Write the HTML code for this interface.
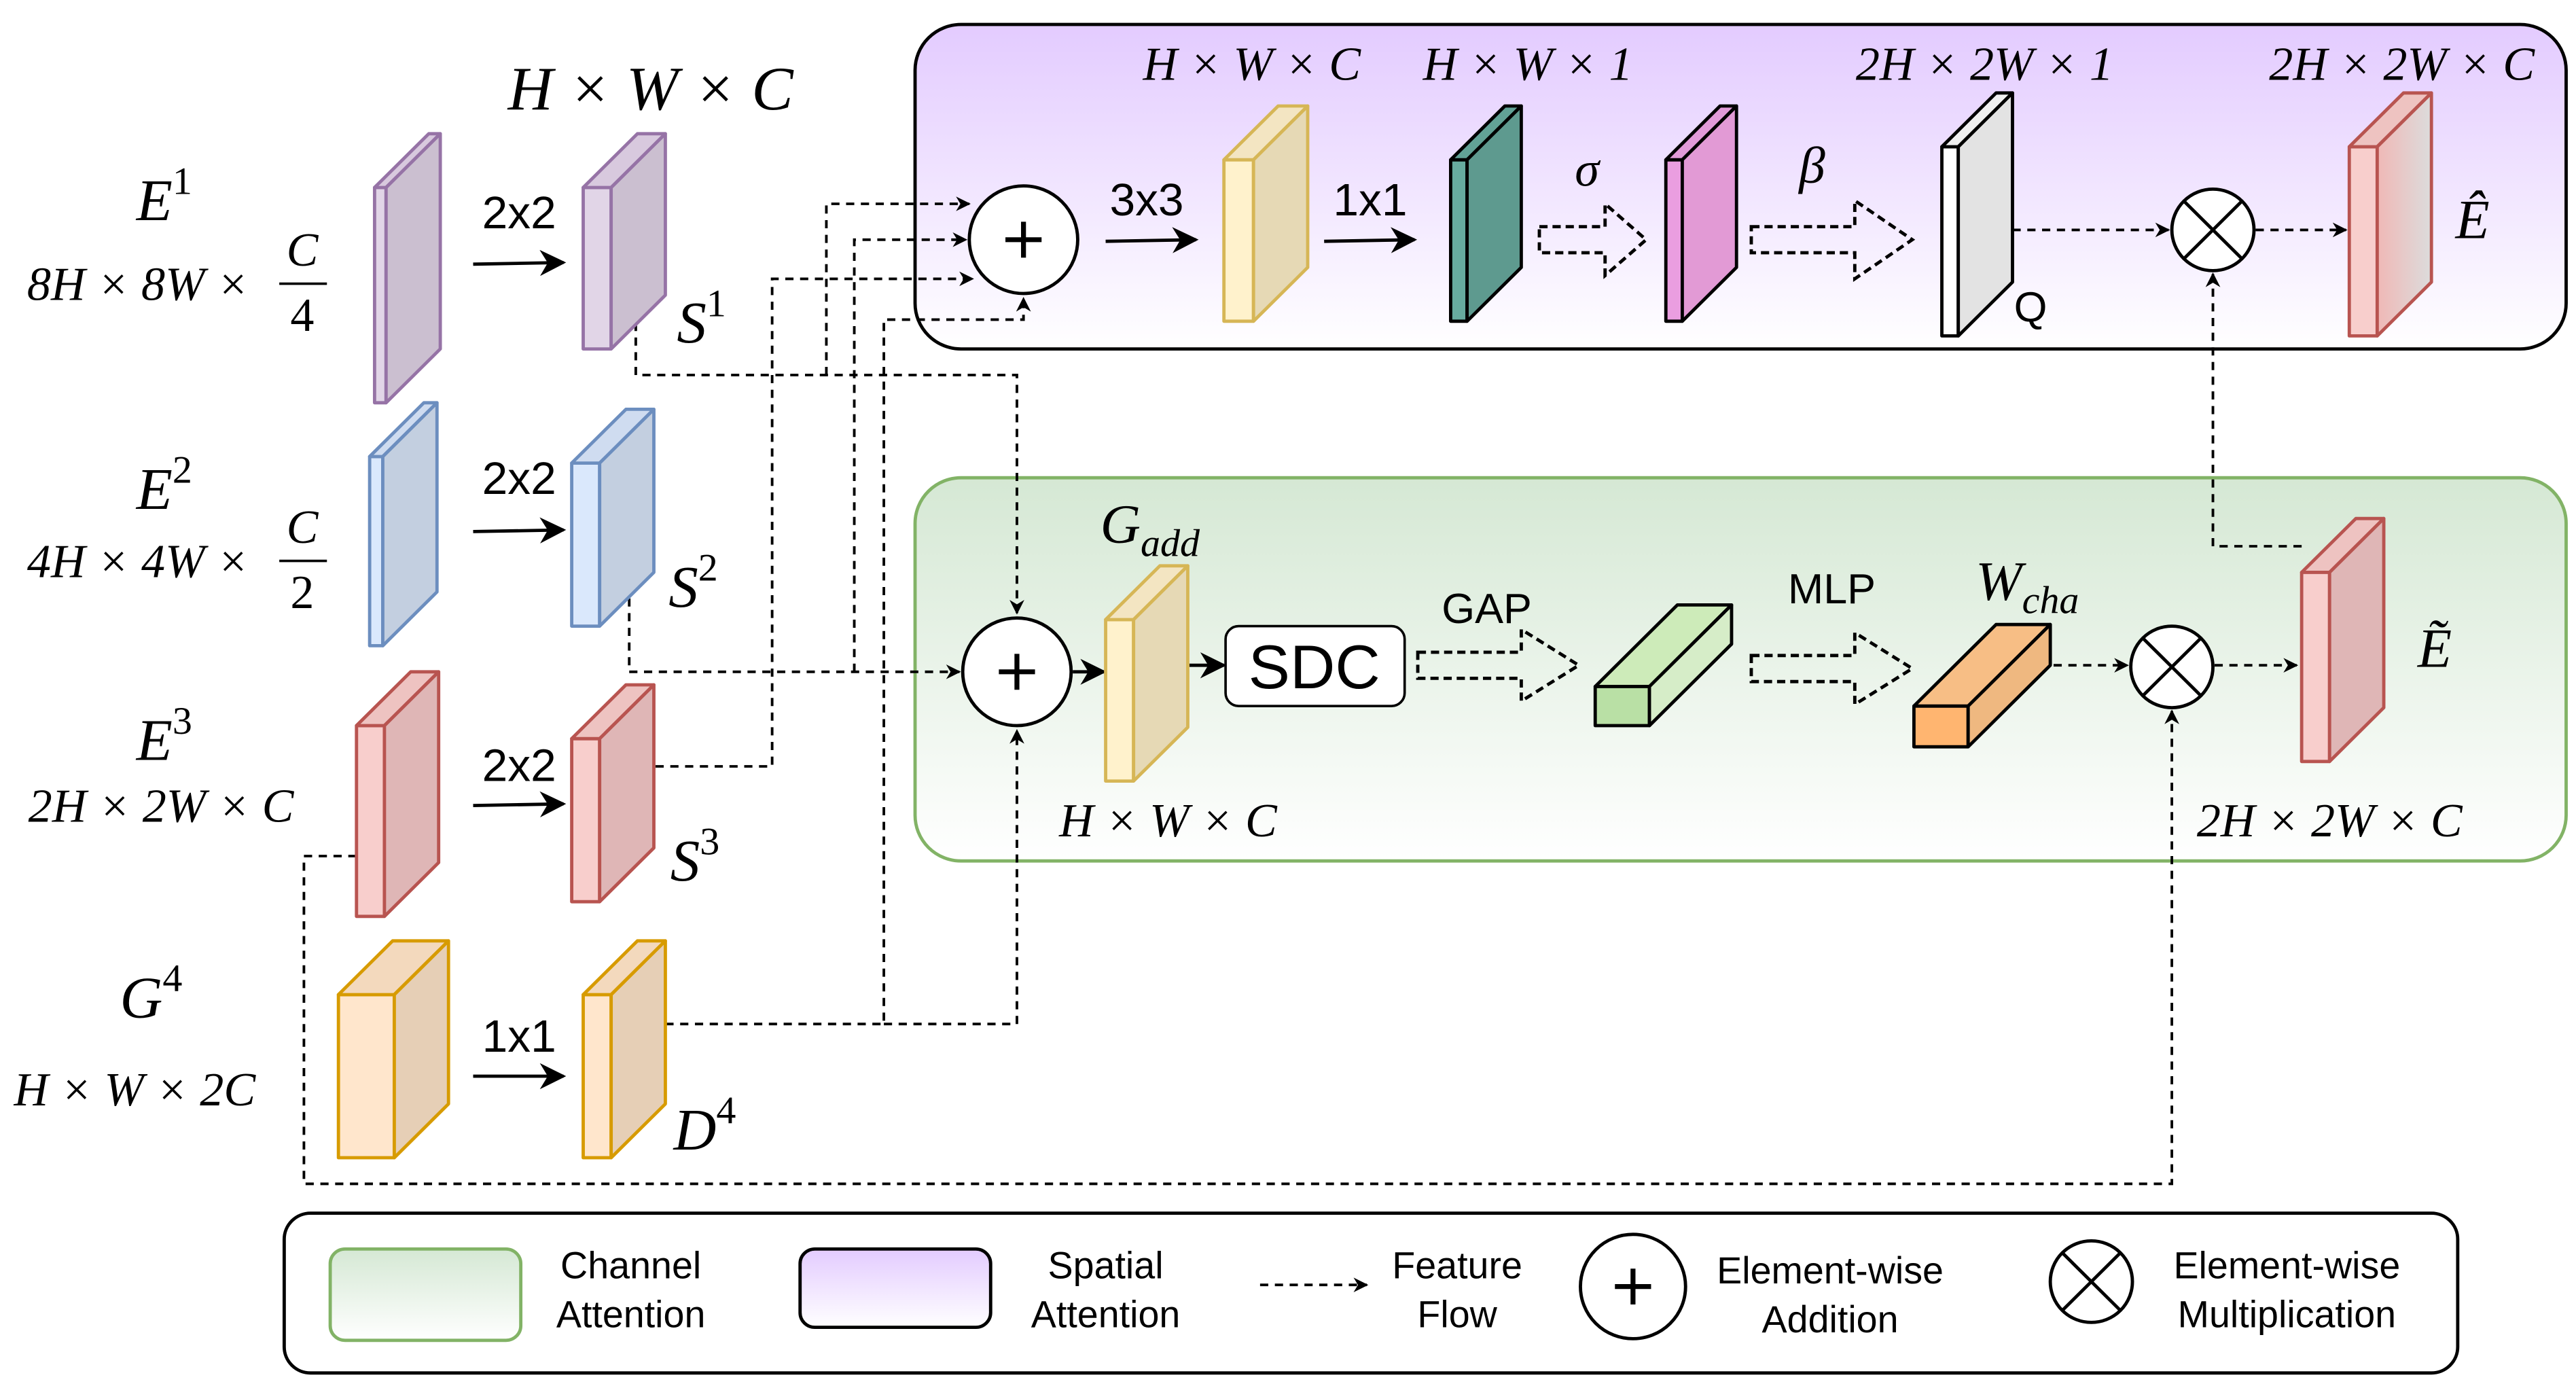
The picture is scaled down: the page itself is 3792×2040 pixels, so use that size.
<!DOCTYPE html>
<html><head><meta charset="utf-8"><style>
html,body{margin:0;padding:0;background:#fff;}
svg{display:block;}
.m{font-family:"Liberation Serif",serif;font-style:italic;}
.r{font-family:"Liberation Serif",serif;font-style:normal;}
.s{font-family:"Liberation Sans",sans-serif;}
</style></head><body>
<svg width="3792" height="2040" viewBox="0 0 1568 850" preserveAspectRatio="none" xmlns="http://www.w3.org/2000/svg">
<defs>
<linearGradient id="gp" x1="0" y1="0" x2="0" y2="1"><stop offset="0" stop-color="#e3cbff"/><stop offset="1" stop-color="#ffffff"/></linearGradient>
<linearGradient id="gg" x1="0" y1="0" x2="0" y2="1"><stop offset="0" stop-color="#d5e8d4"/><stop offset="1" stop-color="#ffffff"/></linearGradient>
<linearGradient id="gr" x1="0" y1="0" x2="1" y2="0"><stop offset="0" stop-color="#f0b8b6"/><stop offset="1" stop-color="#dcdcdc"/></linearGradient>
<marker id="a" viewBox="0 0 10 10" refX="9" refY="5" markerWidth="9" markerHeight="9" markerUnits="userSpaceOnUse" orient="auto"><path d="M0,0 L10,5 L0,10 L3,5 z" fill="#000"/></marker>
<marker id="b" viewBox="0 0 10 10" refX="9" refY="5" markerWidth="16" markerHeight="16" markerUnits="userSpaceOnUse" orient="auto"><path d="M0,0 L10,5 L0,10 L3,5 z" fill="#000"/></marker>
</defs>

<rect x="557" y="15" width="1005" height="199" rx="28" fill="url(#gp)" stroke="#000" stroke-width="2"/>
<rect x="557" y="293" width="1005" height="235" rx="28" fill="url(#gg)" stroke="#82b366" stroke-width="2"/>
<rect x="173" y="744" width="1323" height="98" rx="16" fill="#fff" stroke="#000" stroke-width="2"/>

<g fill="none" stroke="#000" stroke-width="1.6" stroke-dasharray="5,4">
<path d="M387,198 V230 H619 V376" marker-end="url(#a)"/>
<path d="M383,367 V412 H584" marker-end="url(#a)"/>
<path d="M520,412 V147 H588" marker-end="url(#a)"/>
<path d="M503,230 V125 H590" marker-end="url(#a)"/>
<path d="M399,470 H470 V171 H592" marker-end="url(#a)"/>
<path d="M405,628 H538 V196 H623 V183" marker-end="url(#a)"/>
<path d="M538,628 H619 V448" marker-end="url(#a)"/>
<path d="M217,525 H185 V726 H1322 V436" marker-end="url(#a)"/>
<path d="M1225,141 H1320" marker-end="url(#a)"/>
<path d="M1373,141 H1428" marker-end="url(#a)"/>
<path d="M1401,335 H1347 V168" marker-end="url(#a)"/>
<path d="M1250,408 H1295" marker-end="url(#a)"/>
<path d="M1348,408 H1398" marker-end="url(#a)"/>
<path d="M767,788 H832" marker-end="url(#a)"/>
</g>

<g stroke="#000" stroke-width="2" fill="none">
<path d="M288,162 L343,161" marker-end="url(#b)"/>
<path d="M288,326 L343,325" marker-end="url(#b)"/>
<path d="M288,494 L343,493" marker-end="url(#b)"/>
<path d="M288,660 L343,660" marker-end="url(#b)"/>
<path d="M673,148 L728,147" marker-end="url(#b)"/>
<path d="M806,148 L861,147" marker-end="url(#b)"/>
<path d="M653,412 L672,412" marker-end="url(#b)"/>
<path d="M724,408 L745,408" marker-end="url(#b)"/>
</g>

<g fill="none" stroke="#000" stroke-width="2" stroke-dasharray="5,3">
<polygon points="937,139 977,139 977,125 1002,147 977,169 977,155 937,155"/>
<polygon points="1066,139 1129,139 1129,123 1164,147 1129,171 1129,155 1066,155"/>
<polygon points="863,400 926,400 926,386 961,408 926,430 926,416 863,416"/>
<polygon points="1066,402 1129,402 1129,388 1164,410 1129,432 1129,418 1066,418"/>
</g>

<g stroke-width="2" stroke-linejoin="round">
<g stroke="#9673a6"><rect x="228" y="115" width="7" height="132" fill="#e1d5e7"/><polygon points="228,115 261,82 268,82 235,115" fill="#d8c9de"/><polygon points="235,115 268,82 268,214 235,247" fill="#cbbfd0"/></g>
<g stroke="#9673a6"><rect x="355" y="115" width="17" height="99" fill="#e1d5e7"/><polygon points="355,115 388,82 405,82 372,115" fill="#d8c9de"/><polygon points="372,115 405,82 405,181 372,214" fill="#cbbfd0"/></g>
<g stroke="#6c8ebf"><rect x="225" y="280" width="8" height="116" fill="#dae8fc"/><polygon points="225,280 258,247 266,247 233,280" fill="#cfdcf0"/><polygon points="233,280 266,247 266,363 233,396" fill="#c3cfe0"/></g>
<g stroke="#6c8ebf"><rect x="348" y="284" width="17" height="100" fill="#dae8fc"/><polygon points="348,284 381,251 398,251 365,284" fill="#cfdcf0"/><polygon points="365,284 398,251 398,351 365,384" fill="#c3cfe0"/></g>
<g stroke="#b85450"><rect x="217" y="445" width="17" height="117" fill="#f8cecc"/><polygon points="217,445 250,412 267,412 234,445" fill="#eec3c1"/><polygon points="234,445 267,412 267,529 234,562" fill="#dfb6b6"/></g>
<g stroke="#b85450"><rect x="348" y="453" width="17" height="100" fill="#f8cecc"/><polygon points="348,453 381,420 398,420 365,453" fill="#eec3c1"/><polygon points="365,453 398,420 398,520 365,553" fill="#dfb6b6"/></g>
<g stroke="#d79b00"><rect x="206" y="610" width="34" height="100" fill="#ffe6cc"/><polygon points="206,610 239,577 273,577 240,610" fill="#f3d9bd"/><polygon points="240,610 273,577 273,677 240,710" fill="#e6cfb6"/></g>
<g stroke="#d79b00"><rect x="355" y="610" width="17" height="100" fill="#ffe6cc"/><polygon points="355,610 388,577 405,577 372,610" fill="#f3d9bd"/><polygon points="372,610 405,577 405,677 372,710" fill="#e6cfb6"/></g>
<g stroke="#d6b656"><rect x="745" y="98" width="18" height="99" fill="#fff2cc"/><polygon points="745,98 778,65 796,65 763,98" fill="#f3e5c2"/><polygon points="763,98 796,65 796,164 763,197" fill="#e6d9b5"/></g>
<g stroke="#d6b656"><rect x="673" y="380" width="17" height="99" fill="#fff2cc"/><polygon points="673,380 706,347 723,347 690,380" fill="#f3e5c2"/><polygon points="690,380 723,347 723,446 690,479" fill="#e6d9b5"/></g>
<g stroke="#000"><rect x="883" y="98" width="10" height="99" fill="#67ab9f"/><polygon points="883,98 916,65 926,65 893,98" fill="#62a296"/><polygon points="893,98 926,65 926,164 893,197" fill="#5e9a8f"/></g>
<g stroke="#000"><rect x="1014" y="98" width="10" height="99" fill="#ea9ee0"/><polygon points="1014,98 1047,65 1057,65 1024,98" fill="#e19ad8"/><polygon points="1024,98 1057,65 1057,164 1024,197" fill="#e29ad5"/></g>
<g stroke="#000"><rect x="1182" y="90" width="10" height="116" fill="#fff"/><polygon points="1182,90 1215,57 1225,57 1192,90" fill="#f0f0f0"/><polygon points="1192,90 1225,57 1225,173 1192,206" fill="#e3e3e3"/></g>
<g stroke="#b85450"><rect x="1430" y="90" width="17" height="116" fill="#f8cecc"/><polygon points="1430,90 1463,57 1480,57 1447,90" fill="#eec3c1"/><polygon points="1447,90 1480,57 1480,173 1447,206" fill="url(#gr)"/></g>
<g stroke="#b85450"><rect x="1401" y="351" width="17" height="116" fill="#f8cecc"/><polygon points="1401,351 1434,318 1451,318 1418,351" fill="#eec3c1"/><polygon points="1418,351 1451,318 1451,434 1418,467" fill="#dfb6b6"/></g>
<g stroke="#000"><rect x="971" y="421" width="33" height="24" fill="#b9e0a5"/><polygon points="971,421 1021,371 1054,371 1004,421" fill="#cdebb9"/><polygon points="1004,421 1054,371 1054,395 1004,445" fill="#d6edc8"/></g>
<g stroke="#000"><rect x="1165" y="433" width="33" height="25" fill="#ffb570"/><polygon points="1165,433 1215,383 1248,383 1198,433" fill="#f7be85"/><polygon points="1198,433 1248,383 1248,408 1198,458" fill="#efb880"/></g>
</g>

<g fill="#fff" stroke="#000" stroke-width="2">
<circle cx="623" cy="147" r="33"/>
<circle cx="619" cy="412" r="33"/>
<circle cx="1347" cy="141" r="25"/>
<circle cx="1322" cy="409" r="25"/>
<circle cx="994" cy="789" r="32"/>
<circle cx="1273" cy="786" r="25"/>
</g>
<g stroke="#000" stroke-width="3">
<path d="M612,147 H634 M623,136 V158"/>
<path d="M608,412 H630 M619,401 V423"/>
<path d="M983,789 H1005 M994,778 V800"/>
</g>
<g stroke="#000" stroke-width="2">
<path d="M1329,123 L1365,159 M1365,123 L1329,159"/>
<path d="M1304,391 L1340,427 M1340,391 L1304,427"/>
<path d="M1255,768 L1291,804 M1291,768 L1255,804"/>
</g>

<rect x="746" y="384" width="109" height="49" rx="8" fill="#fff" stroke="#000" stroke-width="1.5"/>
<text x="800" y="422" font-size="38" text-anchor="middle" class="s">SDC</text>

<rect x="201" y="766" width="116" height="56" rx="9" fill="url(#gg)" stroke="#82b366" stroke-width="2"/>
<rect x="487" y="766" width="116" height="48" rx="9" fill="url(#gp)" stroke="#000" stroke-width="2"/>
<g class="s" font-size="23" text-anchor="middle">
<text x="384" y="784">Channel</text><text x="384" y="814">Attention</text>
<text x="673" y="784">Spatial</text><text x="673" y="814">Attention</text>
<text x="887" y="784">Feature</text><text x="887" y="814">Flow</text>
<text x="1114" y="787">Element-wise</text><text x="1114" y="817">Addition</text>
<text x="1392" y="784">Element-wise</text><text x="1392" y="814">Multiplication</text>
</g>

<g class="s" font-size="28" text-anchor="middle">
<text x="316" y="140">2x2</text>
<text x="316" y="303">2x2</text>
<text x="316" y="479">2x2</text>
<text x="316" y="645">1x1</text>
<text x="698" y="132">3x3</text>
<text x="834" y="132">1x1</text>
<text x="1115" y="370" font-size="26">MLP</text>
<text x="905" y="382" font-size="26">GAP</text>
<text x="1236" y="197" font-size="26">Q</text>
</g>

<g class="m" font-size="36" text-anchor="middle">
<text x="396" y="67" font-size="38">H × W × C</text>
<text x="100" y="135">E<tspan class="r" font-size="24" dy="-16">1</tspan></text>
<text x="100" y="312">E<tspan class="r" font-size="24" dy="-16">2</tspan></text>
<text x="100" y="466">E<tspan class="r" font-size="24" dy="-16">3</tspan></text>
<text x="92" y="624">G<tspan class="r" font-size="24" dy="-16">4</tspan></text>
<text x="427" y="210">S<tspan class="r" font-size="24" dy="-16">1</tspan></text>
<text x="422" y="372">S<tspan class="r" font-size="24" dy="-16">2</tspan></text>
<text x="423" y="540">S<tspan class="r" font-size="24" dy="-16">3</tspan></text>
<text x="429" y="705">D<tspan class="r" font-size="24" dy="-16">4</tspan></text>
<text x="1505" y="146" font-size="34">Ê</text>
<text x="1482" y="409" font-size="34">Ẽ</text>
<text x="700" y="333" font-size="34">G<tspan font-size="24" dy="8">add</tspan></text>
<text x="1234" y="368" font-size="34">W<tspan font-size="24" dy="8">cha</tspan></text>
<text x="966" y="114" font-size="30">σ</text>
<text x="1103" y="112" font-size="32">β</text>
</g>
<g class="m" font-size="29" text-anchor="middle">
<text x="84" y="184">8H × 8W ×</text>
<text x="84" y="354">4H × 4W ×</text>
<text x="98" y="504">2H × 2W × C</text>
<text x="82" y="678">H × W × 2C</text>
<text x="184" y="163">C</text><text x="184" y="203" class="r">4</text>
<text x="184" y="333">C</text><text x="184" y="373" class="r">2</text>
<text x="762" y="49">H × W × C</text>
<text x="930" y="49">H × W × 1</text>
<text x="1208" y="49">2H × 2W × 1</text>
<text x="1462" y="49">2H × 2W × C</text>
<text x="711" y="513">H × W × C</text>
<text x="1418" y="513">2H × 2W × C</text>
</g>
<path d="M170,174 H199 M170,344 H199" stroke="#000" stroke-width="1.5"/>
</svg>
</body></html>
